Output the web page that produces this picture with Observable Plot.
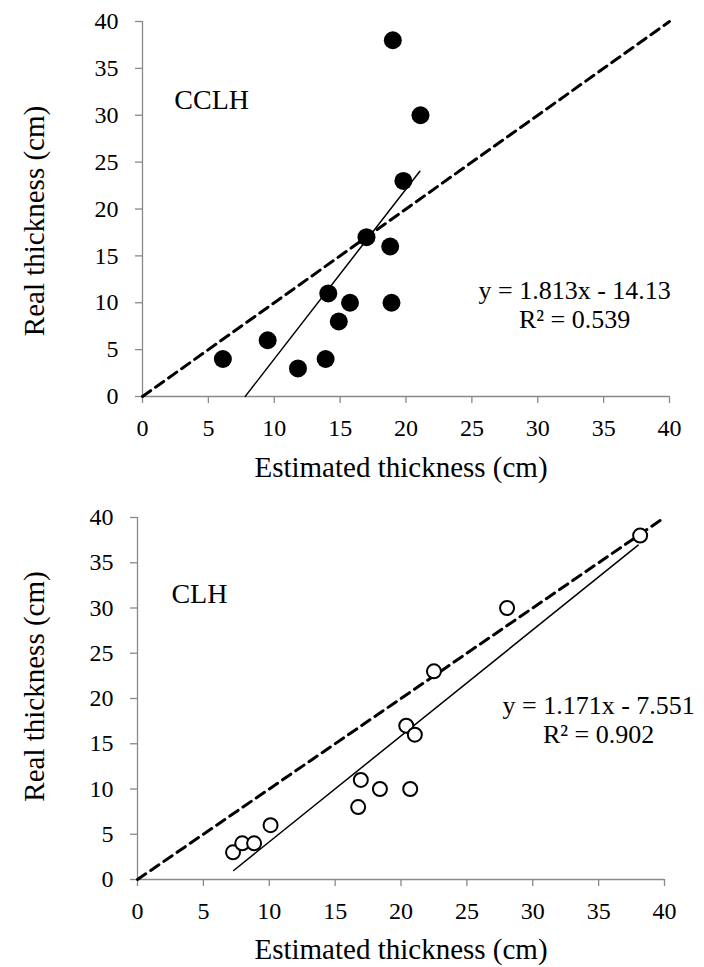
<!DOCTYPE html>
<html>
<head>
<meta charset="utf-8">
<script src="https://cdn.jsdelivr.net/npm/d3@7"></script>
<script src="https://cdn.jsdelivr.net/npm/@observablehq/plot@0.6"></script>
<style>
  html, body { margin: 0; padding: 0; background: #fff; }
  #chart { width: 704px; }
  #chart svg { display: block; }
  #chart svg text { font-family: 'Liberation Serif', 'Times New Roman', serif !important; }
</style>
</head>
<body>
<div id="chart"></div>
<script>
// ---- data ----
const ticks = [0, 5, 10, 15, 20, 25, 30, 35, 40];
const identity = [0, 40];

// CCLH panel
const estCCLH  = [6.1, 9.5, 11.8, 13.9, 14.1, 14.9, 15.75, 17.0, 18.8, 18.9, 19.0, 19.8, 21.1];
const realCCLH = [4, 6, 3, 4, 11, 8, 10, 17, 16, 10, 38, 23, 30];
const fitCCLH = {slope: 1.813, intercept: -14.13, r2: 0.539};
const fitRangeCCLH = [7.8, 21.05];

// CLH panel
const estCLH  = [7.25, 7.95, 8.85, 10.1, 16.75, 16.95, 18.4, 20.7, 20.4, 21.05, 22.5, 28.05, 38.15];
const realCLH = [3, 4, 4, 6, 8, 11, 10, 10, 17, 16, 23, 30, 38];
const fitCLH = {slope: 1.171, intercept: -7.551, r2: 0.902};
const fitRangeCLH = [7.3, 38.0];

const xLabel = "Estimated thickness (cm)";
const yLabel = "Real thickness (cm)";

const FONT = "Liberation Serif";
const AXIS_GRAY = "#898989";

function fmtSigned(v) {
  return v < 0 ? "- " + Math.abs(v) : "+ " + v;
}

function panel(cfg) {
  const pts = cfg.est.map((e, i) => ({x: e, y: cfg.real[i]}));
  const fitPts = cfg.fitRange.map(x => ({x, y: cfg.fit.slope * x + cfg.fit.intercept}));
  const idPts = identity.map(v => ({x: v, y: v}));
  const eq = `y = ${cfg.fit.slope}x ${fmtSigned(cfg.fit.intercept)}\nR² = ${cfg.fit.r2.toFixed(3)}`;
  const dotMark = cfg.filled
    ? Plot.dot(pts, {x: "x", y: "y", r: 9, fill: "black", stroke: "none"})
    : Plot.dot(pts, {x: "x", y: "y", r: 7, fill: "white", stroke: "black", strokeWidth: 2});
  return Plot.plot({
    width: 704,
    height: cfg.height,
    marginLeft: cfg.marginLeft,
    marginRight: cfg.marginRight,
    marginTop: cfg.marginTop,
    marginBottom: cfg.marginBottom,
    style: {fontFamily: FONT, background: "white", color: "black", overflow: "visible"},
    x: {domain: [0, 40]},
    y: {domain: [0, 40]},
    marks: [
      Plot.axisX({ticks, tickSize: 7, tickPadding: 15, fontSize: 24, fontFamily: FONT, stroke: AXIS_GRAY, strokeWidth: 1.3, fill: "black", label: null}),
      Plot.axisY({ticks, tickSize: 7, tickPadding: 17, fontSize: 24, fontFamily: FONT, stroke: AXIS_GRAY, strokeWidth: 1.3, fill: "black", label: null}),
      Plot.ruleY([0], {x1: 0, x2: 40, stroke: AXIS_GRAY, strokeWidth: 1.3}),
      Plot.ruleX([0], {y1: 0, y2: 40, stroke: AXIS_GRAY, strokeWidth: 1.3}),
      Plot.line(idPts, {x: "x", y: "y", stroke: "black", strokeWidth: 3, strokeDasharray: "10,6"}),
      Plot.line(fitPts, {x: "x", y: "y", stroke: "black", strokeWidth: 1.5}),
      dotMark,
      Plot.text([cfg.name], {x: cfg.namePos[0], y: cfg.namePos[1], fontSize: 28, fontFamily: FONT, textAnchor: "middle", lineAnchor: "middle", fill: "black"}),
      Plot.text([eq], {x: cfg.eqPos[0], y: cfg.eqPos[1], fontSize: 26, fontFamily: FONT, lineHeight: 1.1, textAnchor: "middle", lineAnchor: "middle", fill: "black"}),
      Plot.text([xLabel], {frameAnchor: "bottom", dx: cfg.xTitleDx, dy: cfg.xTitleDy, lineAnchor: "bottom", textAnchor: "middle", fontSize: 29, fontFamily: FONT, fill: "black"}),
      Plot.text([yLabel], {frameAnchor: "left", rotate: -90, dx: cfg.yTitleDx, dy: cfg.yTitleDy, lineAnchor: "bottom", textAnchor: "middle", fontSize: 29, fontFamily: FONT, fill: "black"})
    ]
  });
}

const topPanel = panel({
  est: estCCLH, real: realCCLH, fit: fitCCLH, fitRange: fitRangeCCLH, filled: true,
  name: "CCLH", namePos: [5.25, 31.6], eqPos: [32.8, 9.8],
  height: 480, marginLeft: 142, marginRight: 35, marginTop: 21, marginBottom: 84,
  xTitleDx: -5, xTitleDy: 80, yTitleDx: -99, yTitleDy: 12
});
const bottomPanel = panel({
  est: estCLH, real: realCLH, fit: fitCLH, fitRange: fitRangeCLH, filled: false,
  name: "CLH", namePos: [4.7, 31.5], eqPos: [35.0, 17.7],
  height: 487, marginLeft: 137, marginRight: 40, marginTop: 37, marginBottom: 88,
  xTitleDx: 0, xTitleDy: 79, yTitleDx: -94, yTitleDy: -12
});
const root = document.getElementById("chart");
root.appendChild(topPanel);
root.appendChild(bottomPanel);
</script>
</body>
</html>
